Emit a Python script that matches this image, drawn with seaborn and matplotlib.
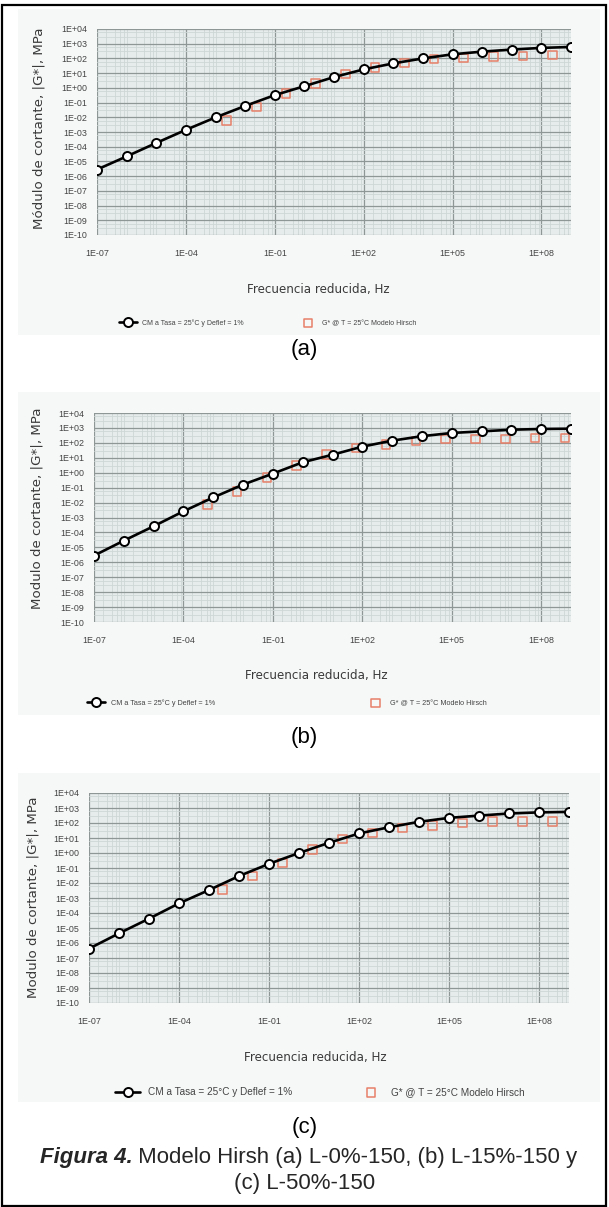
import numpy as np
import seaborn as sns
import matplotlib.pyplot as plt
import matplotlib.ticker as mticker
from matplotlib.patches import Rectangle

sns.set_style("white")
plt.rcParams['font.family'] = ['Liberation Sans', 'DejaVu Sans']

# frequencies (Hz) of the CM points, one per decade
freq_cm = [1e-07, 1e-06, 1e-05, 1e-04, 1e-03, 1e-02, 1e-01, 1e+00, 1e+01,
           1e+02, 1e+03, 1e+04, 1e+05, 1e+06, 1e+07, 1e+08, 1e+09]

# |G*| in MPa, CM master curve, panels a/b/c
cm_a = [2.8e-06, 2.2e-05, 1.8e-04, 1.4e-03, 9.8e-03, 5.9e-02, 3.2e-01, 1.3e+00, 5.4e+00,
        1.8e+01, 4.6e+01, 1.0e+02, 1.9e+02, 2.9e+02, 4.0e+02, 5.2e+02, 6.0e+02]
cm_b = [2.8e-06, 2.8e-05, 2.6e-04, 2.6e-03, 2.2e-02, 1.6e-01, 8.7e-01, 5.0e+00, 1.6e+01,
        5.6e+01, 1.4e+02, 2.8e+02, 4.6e+02, 5.9e+02, 7.6e+02, 8.5e+02, 8.9e+02]
cm_c = [4.2e-07, 4.4e-06, 4.2e-05, 4.4e-04, 3.4e-03, 2.9e-02, 1.9e-01, 1.0e+00, 4.8e+00,
        2.0e+01, 5.2e+01, 1.2e+02, 2.2e+02, 3.1e+02, 4.3e+02, 5.1e+02, 5.5e+02]

# Hirsch model points
freq_h_a = [2.4e-03, 2.4e-02, 2.4e-01, 2.4e+00, 2.4e+01, 2.4e+02, 2.4e+03, 2.4e+04,
            2.4e+05, 2.4e+06, 2.4e+07, 2.4e+08]
hirsch_a = [6.3e-03, 5.0e-02, 4.0e-01, 2.0e+00, 8.9e+00, 2.5e+01, 5.0e+01, 8.9e+01,
            1.1e+02, 1.3e+02, 1.5e+02, 1.7e+02]
freq_h_b = [6.3e-04, 6.3e-03, 6.3e-02, 6.3e-01, 6.3e+00, 6.3e+01, 6.3e+02, 6.3e+03,
            6.3e+04, 6.3e+05, 6.3e+06, 6.3e+07, 6.3e+08]
hirsch_b = [7.2e-03, 5.6e-02, 4.9e-01, 3.0e+00, 1.6e+01, 4.6e+01, 7.6e+01, 1.3e+02,
            1.8e+02, 1.8e+02, 1.8e+02, 2.1e+02, 2.1e+02]
freq_h_c = [2.8e-03, 2.8e-02, 2.8e-01, 2.8e+00, 2.8e+01, 2.8e+02, 2.8e+03, 2.8e+04,
            2.8e+05, 2.8e+06, 2.8e+07, 2.8e+08]
hirsch_c = [3.7e-03, 2.9e-02, 2.2e-01, 1.7e+00, 8.7e+00, 2.2e+01, 4.7e+01, 6.8e+01,
            1.0e+02, 1.3e+02, 1.3e+02, 1.3e+02]

x_ticks = [1e-07, 1e-04, 1e-01, 1e+02, 1e+05, 1e+08]
y_ticks = [1e-10, 1e-09, 1e-08, 1e-07, 1e-06, 1e-05, 1e-04, 1e-03, 1e-02, 1e-01,
           1e+00, 1e+01, 1e+02, 1e+03, 1e+04]

lbl_cm = "CM a Tasa = 25°C y Deflef = 1%"
lbl_h = "G* @ T = 25°C Modelo Hirsch"
ylab = ["Módulo de cortante, |G*|, MPa", "Modulo de cortante, |G*|, MPa",
        "Modulo de cortante, |G*|, MPa"]

W, H = 609, 1207
fig = plt.figure(figsize=(W / 100, H / 100), dpi=100)

def fx(px):
    return px / W

def fy(py):
    return 1 - py / H

# panel layout in pixels: plot box, background box, text positions, legend styling
panels = [
    dict(box=(97, 29, 571, 235), bg=(18, 9, 600, 335), ylx=39, yly=128, xlx=318, xly=289,
         leg=(268, 323), tag=350, lfs=5.0, cs=8, tfs=6.4),
    dict(box=(94, 413, 571, 622), bg=(18, 392, 600, 715), ylx=37, yly=508, xlx=316, xly=675,
         leg=(287, 703), tag=738, lfs=5.2, cs=21, tfs=6.4),
    dict(box=(89, 793, 569, 1003), bg=(18, 773, 600, 1102), ylx=33, yly=897, xlx=315, xly=1058,
         leg=(320, 1092), tag=1127, lfs=7.2, cs=6.6, tfs=6.4),
]
series = [(cm_a, freq_h_a, hirsch_a), (cm_b, freq_h_b, hirsch_b), (cm_c, freq_h_c, hirsch_c)]
tags = ["(a)", "(b)", "(c)"]

for i, p in enumerate(panels):
    bx0, by0, bx1, by1 = p["bg"]
    fig.patches.append(Rectangle((fx(bx0), fy(by1)), fx(bx1 - bx0), (by1 - by0) / H,
                                 transform=fig.transFigure, facecolor="#f6f7f7",
                                 edgecolor="none", zorder=-5))
    l, t, r, b = p["box"]
    ax = fig.add_axes([fx(l), fy(b), fx(r - l), (b - t) / H])
    ax.set_zorder(2)
    ax.set_facecolor("#e6ebeb")
    cm, fh, gh = series[i]

    sns.scatterplot(x=fh, y=gh, marker="s", s=38, facecolor="none", edgecolor="#e8806a",
                    linewidth=1.1, ax=ax, label=lbl_h, zorder=3)
    sns.lineplot(x=freq_cm, y=cm, color="black", linewidth=1.9, marker="o", markersize=6.5,
                 markerfacecolor="white", markeredgecolor="black", markeredgewidth=1.4,
                 ax=ax, label=lbl_cm, zorder=4)

    ax.set_xscale("log")
    ax.set_yscale("log")
    ax.set_xlim(1e-07, 1e+09)
    ax.set_ylim(1e-10, 1e+04)
    ax.xaxis.set_major_locator(mticker.FixedLocator(x_ticks))
    ax.yaxis.set_major_locator(mticker.FixedLocator(y_ticks))
    ax.xaxis.set_minor_locator(mticker.LogLocator(base=10, subs=(1.0, 2.0, 4.0, 6.0, 8.0), numticks=40))
    ax.yaxis.set_minor_locator(mticker.LogLocator(base=10, subs=(3.0, 6.0), numticks=40))
    ax.xaxis.set_minor_formatter(mticker.NullFormatter())
    ax.yaxis.set_minor_formatter(mticker.NullFormatter())
    fmt = mticker.FuncFormatter(lambda v, pos: "{:.0E}".format(v))
    ax.xaxis.set_major_formatter(fmt)
    ax.yaxis.set_major_formatter(fmt)
    ax.grid(which="major", color="#8f9696", linewidth=0.9)
    ax.grid(which="minor", color="#cfd6d6", linewidth=0.6)
    ax.tick_params(which="both", length=0, labelsize=p["tfs"], labelcolor="#444444")
    ax.tick_params(axis="x", pad=10)
    ax.tick_params(axis="y", pad=7)
    for s in ax.spines.values():
        s.set_visible(False)
    ax.set_xlabel("")
    ax.set_ylabel("")
    ax.set_axisbelow(True)

    handles, labels = ax.get_legend_handles_labels()
    order = [labels.index(lbl_cm), labels.index(lbl_h)]
    ax.legend([handles[k] for k in order], [labels[k] for k in order], loc="center",
              bbox_to_anchor=(fx(p["leg"][0]), fy(p["leg"][1])), bbox_transform=fig.transFigure,
              ncol=2, frameon=False, fontsize=p["lfs"], columnspacing=p["cs"], handlelength=2.5,
              labelcolor="#444444")

    fig.text(fx(p["ylx"]), fy(p["yly"]), ylab[i], rotation=90, ha="center", va="center",
             fontsize=9.6, color="#3a3a3a", family=["DejaVu Sans"])
    fig.text(fx(p["xlx"]), fy(p["xly"]), "Frecuencia reducida, Hz", ha="center", va="center",
             fontsize=8.6, color="#3a3a3a", family=["DejaVu Sans"])
    fig.text(0.5, fy(p["tag"]), tags[i], ha="center", va="center", fontsize=16, color="black")

# caption: bold italic figure number followed by regular text, centred
renderer = fig.canvas.get_renderer()
cap_bold = "Figura 4."
cap_rest = " Modelo Hirsh (a) L-0%-150, (b) L-15%-150 y"
t1 = fig.text(0, fy(1157), cap_bold, fontsize=16.0, fontweight="bold", fontstyle="italic",
              va="center", ha="left")
t2 = fig.text(0, fy(1157), cap_rest, fontsize=16.0, va="center", ha="left")
w1 = t1.get_window_extent(renderer).width
w2 = t2.get_window_extent(renderer).width
x0 = (W - (w1 + w2)) / 2 + 4
t1.set_x(x0 / W)
t2.set_x((x0 + w1) / W)
fig.text(0.5, fy(1183), "(c) L-50%-150", fontsize=16.0, ha="center", va="center")

# outer frame
fig.patches.append(Rectangle((fx(1.5), fy(1205.5)), fx(604), 1200.5 / H, transform=fig.transFigure,
                             facecolor="none", edgecolor="black", linewidth=1.6, zorder=10))

fig.savefig("out.png", dpi=100)
